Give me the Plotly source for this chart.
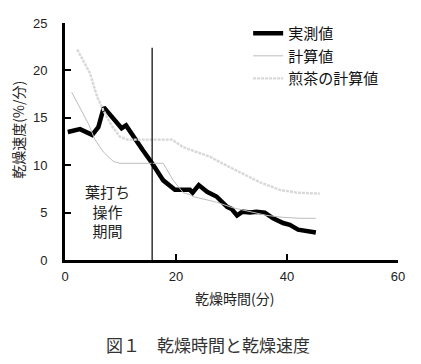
import plotly.graph_objects as go

# measured drying rate (実測値)
meas_x = [0.5, 2.7, 4.9, 6.0, 7.0, 8.7, 10.2, 11.0, 12.3, 14.0, 15.7, 16.5, 17.7, 19.8, 22.5, 23.0, 24.1,
          25.6, 27.3, 29.2, 30.0, 31.0, 32.0, 33.3, 34.5, 36.0, 37.5, 39.3, 40.5, 42.0, 43.5, 45.2]
meas_y = [13.5, 13.8, 13.2, 14.0, 16.1, 15.0, 13.9, 14.2, 13.0, 11.6, 10.2, 9.5, 8.4, 7.4, 7.4, 7.1, 7.9,
          7.2, 6.7, 5.6, 5.4, 4.7, 5.1, 5.0, 5.1, 5.0, 4.4, 3.9, 3.7, 3.2, 3.1, 2.9]

# calculated (計算値)
calc_x = [1.2, 2.7, 4.2, 5.4, 6.9, 8.7, 9.9, 17.7, 19.5, 21.3, 22.5, 23.0, 27.3, 30.3, 33.3, 36.4, 39.3, 42.3, 45.2]
calc_y = [17.7, 16.1, 14.4, 12.7, 11.4, 10.4, 10.2, 10.2, 8.4, 7.1, 6.9, 6.7, 6.1, 5.5, 5.1, 4.7, 4.5, 4.4, 4.4]

# sencha calculated (煎茶の計算値)
sen_x = [2.2, 4.5, 5.8, 6.9, 8.5, 9.9, 11.2, 19.3, 21.3, 24.3, 26.1, 28.3, 31.5, 35.1, 38.7, 41.8, 45.9]
sen_y = [22.2, 19.7, 17.2, 15.8, 14.1, 13.0, 12.7, 12.7, 11.9, 11.3, 10.9, 10.2, 9.3, 8.2, 7.4, 7.1, 7.0]

boundary_x = 15.7
boundary_top = 22.4

x_ticks = [0, 20, 40, 60]
y_ticks = [0, 5, 10, 15, 20, 25]

FONT = "Liberation Sans, Noto Sans CJK JP, sans-serif"
CJK = "Noto Sans CJK JP, sans-serif"

fig = go.Figure()
fig.add_trace(go.Scatter(x=meas_x, y=meas_y, mode="lines", name="実測値",
                         line=dict(color="black", width=4.5)))
fig.add_trace(go.Scatter(x=calc_x, y=calc_y, mode="lines", name="計算値",
                         line=dict(color="#bdbdbd", width=1)))
fig.add_trace(go.Scatter(x=sen_x, y=sen_y, mode="lines", name="煎茶の計算値",
                         line=dict(color="#d8d8d8", width=2.4, dash="3px,1px")))
fig.add_trace(go.Scatter(x=[boundary_x, boundary_x], y=[0, boundary_top], mode="lines",
                         showlegend=False, line=dict(color="black", width=1.2)))

fig.add_annotation(x=7.6, y=5.2, xref="x", yref="y", text="葉打ち<br>操作<br>期間",
                   showarrow=False, font=dict(family=CJK, size=15, color="#222"))
fig.add_annotation(x=-0.141, y=0.55, xref="paper", yref="paper", text="乾燥速度(%/分)",
                   xanchor="center", yanchor="middle",
                   textangle=-90, showarrow=False, font=dict(family=CJK, size=14, color="#222"))
fig.add_annotation(x=0.51, y=-0.16, xref="paper", yref="paper", text="乾燥時間(分)",
                   xanchor="center", yanchor="middle",
                   showarrow=False, font=dict(family=CJK, size=14, color="#222"))
fig.add_annotation(x=0.43, y=-0.355, xref="paper", yref="paper", text="図１　乾燥時間と乾燥速度",
                   xanchor="center", yanchor="middle",
                   showarrow=False, font=dict(family=CJK, size=17, color="#333"))

fig.update_layout(
    width=421, height=364,
    margin=dict(l=65, r=23, t=23, b=104),
    paper_bgcolor="white", plot_bgcolor="white",
    font=dict(family=FONT, size=13, color="#222"),
    legend=dict(x=0.55, y=1.025, xanchor="left", yanchor="top", bgcolor="rgba(0,0,0,0)",
                font=dict(family=CJK, size=15, color="#111"), itemwidth=30, tracegroupgap=0),
)
fig.update_xaxes(range=[0, 60], tickvals=x_ticks, showgrid=False, zeroline=False,
                 showline=True, linecolor="black", linewidth=3,
                 ticks="inside", ticklen=6, tickwidth=2, tickcolor="black",
                 ticklabelstandoff=2, tickfont=dict(size=13))
fig.update_yaxes(range=[0, 25], tickvals=y_ticks, showgrid=False, zeroline=False,
                 showline=True, linecolor="black", linewidth=3,
                 ticks="inside", ticklen=6, tickwidth=2, tickcolor="black",
                 ticklabelstandoff=12, tickfont=dict(size=13))

fig.write_html("out.html", config={"displayModeBar": False},
               post_script="document.body.style.margin='0';")
